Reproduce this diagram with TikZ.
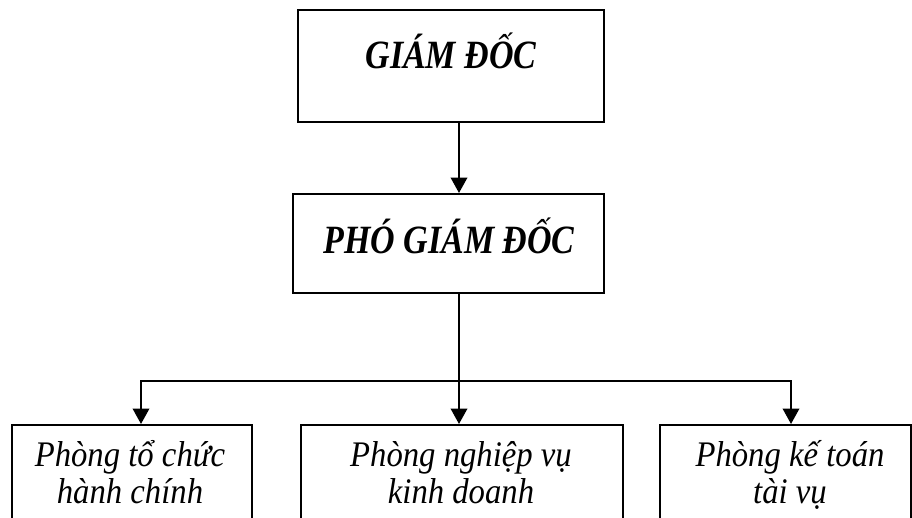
\documentclass[tikz,border=0pt]{standalone}
\usepackage{fontspec}
\setmainfont{Liberation Serif}
\usetikzlibrary{arrows.meta}
\begin{document}
\begin{tikzpicture}[x=1pt,y=-1pt,
  box/.style={draw, line width=2pt, rectangle, inner sep=0pt, anchor=north west},
  arr/.style={line width=2.2pt, -{Triangle[width=16.5pt,length=15.5pt]}},
  link/.style={line width=2.2pt},
  head/.style={anchor=base, inner sep=0pt, font=\fontsize{34}{40}\selectfont\bfseries\itshape},
  dept/.style={anchor=base, inner sep=0pt, font=\fontsize{32.7}{37}\selectfont\itshape}]
\useasboundingbox (0,0) rectangle (912,517);
\clip (0,0) rectangle (912,517);
% boxes
\node[box, minimum width=306pt, minimum height=112pt] (gd) at (297,9) {};
\node[box, minimum width=311pt, minimum height=99pt] (pgd) at (292,193) {};
\node[box, minimum width=240pt, minimum height=130pt] (b1) at (11,424) {};
\node[box, minimum width=322pt, minimum height=130pt] (b2) at (300,424) {};
\node[box, minimum width=251pt, minimum height=130pt] (b3) at (659,424) {};
% texts
\node[head] (t1) at (451,68) {\scalebox{1}[1.18]{GIÁM ĐỐC}};
\node[head] (t2) at (449,253) {\scalebox{1}[1.18]{PHÓ GIÁM ĐỐC}};
\node[dept] (d11) at (130,466) {\scalebox{1}[1.1]{Phòng tổ chức}};
\node[dept] (d12) at (130,503) {\scalebox{1}[1.1]{hành chính}};
\node[dept] (d21) at (461,466) {\scalebox{1}[1.1]{Phòng nghiệp vụ}};
\node[dept] (d22) at (461,503) {\scalebox{1}[1.1]{kinh doanh}};
\node[dept] (d31) at (790,466) {\scalebox{1}[1.1]{Phòng kế toán}};
\node[dept] (d32) at (790,503) {\scalebox{1}[1.1]{tài vụ}};
% connectors
\coordinate (ax) at (459,0);
\coordinate (bus) at (459,381);
\coordinate (a1) at (141,381);
\coordinate (a3) at (791,381);
\draw[arr] (gd.south -| ax) -- (pgd.north -| ax);
\draw[arr] (pgd.south -| ax) -- (b2.north -| ax);
\draw[link, line cap=rect] (a1) -- (a3);
\draw[arr] (a1) -- (b1.north -| a1);
\draw[arr] (a3) -- (b3.north -| a3);
\end{tikzpicture}
\end{document}
